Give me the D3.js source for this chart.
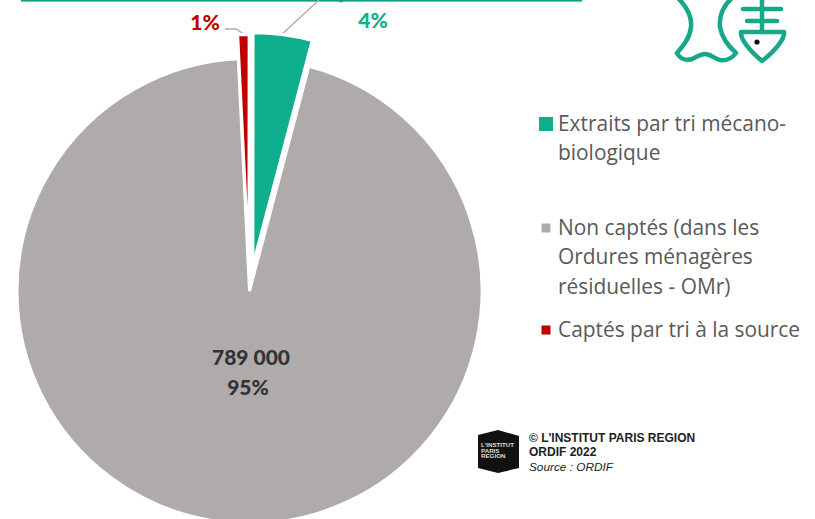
<!DOCTYPE html>
<html><head><meta charset="utf-8">
<script src="https://cdnjs.cloudflare.com/ajax/libs/d3/7.8.5/d3.min.js"></script>
<style>html,body{margin:0;padding:0;background:#fff;overflow:hidden}svg{display:block}</style>
</head><body><svg id="c" width="815" height="519"></svg>
<script>
const categories=["Extraits par tri mécano-biologique","Non captés (dans les Ordures ménagères résiduelles - OMr)","Captés par tri à la source"];
const values=[34000,789000,6500];
const colors=["#0FAE8C","#AFABAB","#C00000"];
const explode=[26,0,24];
const legendLines=[["Extraits par tri mécano-","biologique"],["Non captés (dans les","Ordures ménagères","résiduelles - OMr)"],["Captés par tri à la source"]];
const legendSwatch=[14,9,9];
const legendY=[123,227,329];
const sources=["© L'INSTITUT PARIS REGION","ORDIF 2022","Source : ORDIF"];

const svg=d3.select("#c");
const cx=249.5,cy=291,R=232.5;
const rot=0.05*Math.PI/180;
const arc=d3.arc().innerRadius(0).outerRadius(R);
const pie=d3.pie().sort(null).value(d=>d).startAngle(rot).endAngle(rot+2*Math.PI);
const arcs=pie(values);

// top rule and cropped leader
svg.append("rect").attr("x",21).attr("y",0).attr("width",561).attr("height",1.6).attr("fill","#0E9E80");
svg.append("rect").attr("x",339).attr("y",0).attr("width",4).attr("height",2.2).attr("fill","#0E9E80");
svg.append("path").attr("d","M280,36 L319,0").attr("fill","none").attr("stroke","#AFABAB").attr("stroke-width",1.3);
svg.append("path").attr("d","M225,29 L236,29 L245,35").attr("fill","none").attr("stroke","#AFABAB").attr("stroke-width",1.3);

const g=svg.append("g").attr("transform",`translate(${cx},${cy})`);
g.selectAll("path").data(arcs).join("path")
 .attr("d",arc)
 .attr("transform",(d,i)=>{const a=(d.startAngle+d.endAngle)/2;return `translate(${explode[i]*Math.sin(a)},${-explode[i]*Math.cos(a)})`;})
 .attr("fill",(d,i)=>colors[i]).attr("stroke","#fff").attr("stroke-width",3).attr("stroke-linejoin","miter");

// data labels
const lab=svg.append("g").attr("font-family","Lato, sans-serif").attr("font-weight",900).attr("font-size",21).attr("text-anchor","middle");
lab.append("text").attr("x",205).attr("y",30).attr("fill",colors[2]).text("1%");
lab.append("text").attr("x",373).attr("y",28).attr("fill",colors[0]).text("4%");
lab.append("text").attr("x",251).attr("y",365).attr("fill","#333").text("789 000");
lab.append("text").attr("x",248).attr("y",395).attr("fill","#333").text("95%");

// legend
const leg=svg.append("g").attr("font-family","'Open Sans', sans-serif").attr("font-size",20.9).attr("fill","#595959");
legendLines.forEach((lines,i)=>{
  const s=legendSwatch[i];
  leg.append("rect").attr("x",546-s/2).attr("y",legendY[i]-s/2+1).attr("width",s).attr("height",s).attr("fill",colors[i]);
  lines.forEach((t,j)=>leg.append("text").attr("x",558).attr("y",legendY[i]+8+j*29.3).text(t));
});

// source block
const logo=svg.append("g");
logo.append("path").attr("d","M478,435 L498,430 L519,436 L519,468 L498,473 L478,468 Z").attr("fill","#111");
const lt=logo.append("g").attr("font-family","'Liberation Sans', sans-serif").attr("font-weight",700).attr("font-size",6.2).attr("fill","#ddd");
["L'INSTITUT","PARIS","REGION"].forEach((t,i)=>lt.append("text").attr("x",481).attr("y",447+i*5.5).text(t));
const src=svg.append("g").attr("font-family","'Liberation Sans', sans-serif").attr("font-size",12).attr("fill","#222");
src.append("text").attr("x",529).attr("y",442).attr("font-weight",700).text(sources[0]);
src.append("text").attr("x",529).attr("y",456).attr("font-weight",700).text(sources[1]);
src.append("text").attr("x",529).attr("y",471).attr("font-style","italic").attr("font-size",11.8).text(sources[2]);

// pictogram
const ic=svg.append("g").attr("fill","none").attr("stroke","#17A88A").attr("stroke-width",4.5).attr("stroke-linecap","round").attr("stroke-linejoin","round");
ic.append("path").attr("d","M678,-2 C688,8 692,18 691,27 C690,38 683,46 677,53 C680,59 686,61 692,59 C697,57 700,54 705,54 C711,54 714,59 720,60 C727,61 733,57 736,53 C728,46 722,38 720,27 C719,16 723,6 732,-2");
ic.append("path").attr("d","M741,32 L784,32 C785,39 775,51 762,61 C750,51 740,39 741,32 Z");
ic.append("path").attr("d","M762,-2 L762,32 M743,9 L781,9 M747,21 L777,21");
svg.append("circle").attr("cx",757).attr("cy",42).attr("r",2.6).attr("fill","#111");
</script></body></html>
